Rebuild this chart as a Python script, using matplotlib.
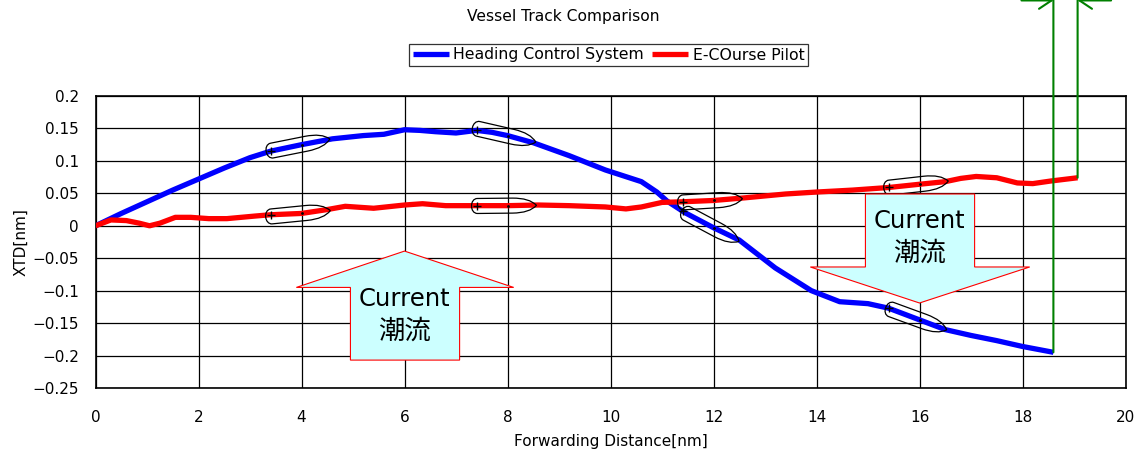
import numpy as np
import matplotlib
matplotlib.use("Agg")
import matplotlib.pyplot as plt
from matplotlib.path import Path
from matplotlib.patches import PathPatch, Polygon
import matplotlib.transforms as mtransforms

plt.rcParams['font.family'] = ['DejaVu Sans', 'Noto Sans CJK JP']

# ------------ data ---------------
hcs_x = [0, 0.5, 1, 1.5, 2, 2.5, 3, 3.4, 4, 4.6, 5.2, 5.6, 6, 6.3, 6.6, 7.0,
         7.4, 7.7, 8.0, 8.5, 9.2, 9.9, 10.6, 10.9, 11.1, 11.45, 12.0, 12.5,
         13.2, 13.9, 14.45, 15.0, 15.4, 16.0, 16.5, 17.0, 17.5, 18.0, 18.6]
hcs_y = [0, 0.019, 0.037, 0.055, 0.072, 0.089, 0.105, 0.115, 0.125, 0.134,
         0.139, 0.141, 0.148, 0.147, 0.145, 0.143, 0.147, 0.144, 0.139, 0.128,
         0.108, 0.086, 0.068, 0.052, 0.038, 0.02, -0.003, -0.022, -0.065,
         -0.1, -0.117, -0.12, -0.127, -0.145, -0.16, -0.169, -0.177, -0.186,
         -0.195]

ecp_x = [0, 0.3, 0.6, 0.85, 1.05, 1.25, 1.55, 1.85, 2.2, 2.55, 3.1, 3.4, 4.0,
         4.5, 4.85, 5.4, 6.0, 6.35, 6.8, 7.4, 8.0, 8.6, 9.2, 9.9, 10.3, 10.6,
         11.0, 11.4, 12.0, 12.6, 13.4, 14.0, 14.7, 15.4, 16.0, 16.5, 16.8,
         17.1, 17.5, 17.9, 18.2, 18.55, 19.07]
ecp_y = [0, 0.009, 0.008, 0.004, 0.0, 0.004, 0.013, 0.013, 0.011, 0.011, 0.015,
         0.017, 0.019, 0.025, 0.030, 0.027, 0.032, 0.034, 0.031, 0.031, 0.031,
         0.032, 0.031, 0.029, 0.026, 0.029, 0.036, 0.037, 0.039, 0.043, 0.049,
         0.052, 0.055, 0.059, 0.064, 0.068, 0.073, 0.076, 0.074, 0.066, 0.065,
         0.069, 0.074]

ship_x = [4, 8, 12, 16]

x_ticks = [0, 2, 4, 6, 8, 10, 12, 14, 16, 18, 20]
y_ticks = [0.2, 0.15, 0.1, 0.05, 0, -0.05, -0.1, -0.15, -0.2, -0.25]
y_labels = ['0.2', '0.15', '0.1', '0.05', '0', '-0.05', '-0.1', '-0.15', '-0.2', '-0.25']

# ------------ figure ---------------
W, H = 1140, 453
fig = plt.figure(figsize=(W / 100, H / 100), dpi=100)
ax = fig.add_axes([95.5 / W, 1 - 388 / H, (1125.5 - 95.5) / W, (388 - 96) / H])
ax.set_xlim(0, 20)
ax.set_ylim(-0.25, 0.2)

ax.set_xticks(x_ticks)
ax.set_xticklabels([str(t) for t in x_ticks])
ax.set_yticks(y_ticks)
ax.set_yticklabels([s.replace('-', '\u2212') for s in y_labels])
ax.tick_params(length=0, labelsize=11)
ax.tick_params(axis='y', pad=12)
ax.tick_params(axis='x', pad=16)
ax.grid(True, color='black', lw=0.9)
ax.set_axisbelow(True)
for sp in ax.spines.values():
    sp.set_color('black')
    sp.set_linewidth(1.2)

ax.plot(hcs_x, hcs_y, color='#0000FF', lw=3.8, label='Heading Control System',
        solid_capstyle='butt', zorder=3)
ax.plot(ecp_x, ecp_y, color='#FF0000', lw=3.8, label='E-COurse Pilot',
        solid_capstyle='butt', zorder=3)

ax.set_xlabel('Forwarding Distance[nm]', fontsize=11, labelpad=6)
ax.set_ylabel('XTD[nm]', fontsize=11, labelpad=3)

fig.text(563 / W, 1 - 17 / H, 'Vessel Track Comparison', ha='center', va='center', fontsize=11.2)

leg = ax.legend(loc='center', bbox_to_anchor=(608.5 / W, 1 - 55 / H),
                bbox_transform=fig.transFigure, ncol=2, fontsize=11.3,
                frameon=True, fancybox=False, borderpad=0.25, handlelength=2.3,
                handletextpad=0.3, columnspacing=0.5, borderaxespad=0)
leg.get_frame().set_edgecolor('black')
leg.get_frame().set_linewidth(0.9)

# ------------ ship outlines ---------------
hull = Path([(-30, -7.5), (5, -7.5), (22, -7.5), (29, 0), (22, 7.5), (5, 7.5),
             (-30, 7.5), (-38, 7.5), (-38, -7.5), (-30, -7.5), (-30, -7.5)],
            [Path.MOVETO, Path.LINETO, Path.CURVE3, Path.CURVE3, Path.CURVE3,
             Path.CURVE3, Path.LINETO, Path.CURVE4, Path.CURVE4, Path.CURVE4,
             Path.CLOSEPOLY])

for tx, ty in [(hcs_x, hcs_y), (ecp_x, ecp_y)]:
    for cx in ship_x:
        cy = np.interp(cx, tx, ty)
        p0 = ax.transData.transform((cx - 0.6, np.interp(cx - 0.6, tx, ty)))
        p1 = ax.transData.transform((cx + 0.6, np.interp(cx + 0.6, tx, ty)))
        ang = np.degrees(np.arctan2(p1[1] - p0[1], p1[0] - p0[0]))
        tr = mtransforms.Affine2D().rotate_deg(ang) + \
            mtransforms.ScaledTranslation(cx, cy, ax.transData)
        ax.add_patch(PathPatch(hull, facecolor='none', edgecolor='black', lw=0.9,
                               transform=tr, zorder=4))
        sx = cx - 0.6
        ax.plot([sx], [np.interp(sx, tx, ty)], marker='+', color='black', ms=6,
                mew=1.0, zorder=5)
        ax.plot([cx], [cy], marker='.', color='black', ms=2, zorder=5)

# ------------ current arrows ---------------
up = [(6, -0.039), (8.12, -0.095), (7.07, -0.095), (7.07, -0.207), (4.95, -0.207),
      (4.95, -0.095), (3.9, -0.095)]
ax.add_patch(Polygon(up, closed=True, facecolor='#CCFFFF', edgecolor='#FF0000', lw=0.8, zorder=6))
ax.text(6, -0.113, 'Current', ha='center', va='center', fontsize=17.5, zorder=7)
ax.text(6, -0.163, '潮流', ha='center', va='center', fontsize=19, zorder=7)

down = [(16, -0.119), (18.14, -0.0635), (17.07, -0.0635), (17.07, 0.049),
        (14.95, 0.049), (14.95, -0.0635), (13.88, -0.0635)]
ax.add_patch(Polygon(down, closed=True, facecolor='#CCFFFF', edgecolor='#FF0000', lw=0.8, zorder=6))
ax.text(16, 0.007, 'Current', ha='center', va='center', fontsize=17.5, zorder=7)
ax.text(16, -0.043, '潮流', ha='center', va='center', fontsize=19, zorder=7)

# ------------ dimension lines ---------------
green = '#008000'
end_pts = [(hcs_x[-1], hcs_y[-1]), (ecp_x[-1], ecp_y[-1])]
for ex, ey in end_pts:
    ax.annotate('', xy=(ex, 1.0), xycoords=('data', 'figure fraction'),
                xytext=(ex, ey), textcoords='data',
                arrowprops=dict(arrowstyle='-', color=green, lw=1.5, shrinkA=0, shrinkB=0))
ax.annotate('', xy=(end_pts[0][0], 0.999), xycoords=('data', 'figure fraction'),
            xytext=(17.98, 0.999), textcoords=('data', 'figure fraction'),
            arrowprops=dict(arrowstyle='->, head_length=0.9, head_width=0.6',
                            color=green, lw=1.5, shrinkA=0, shrinkB=0))
ax.annotate('', xy=(end_pts[1][0], 0.999), xycoords=('data', 'figure fraction'),
            xytext=(19.72, 0.999), textcoords=('data', 'figure fraction'),
            arrowprops=dict(arrowstyle='->, head_length=0.9, head_width=0.6',
                            color=green, lw=1.5, shrinkA=0, shrinkB=0))

fig.savefig('out.png', dpi=100)
